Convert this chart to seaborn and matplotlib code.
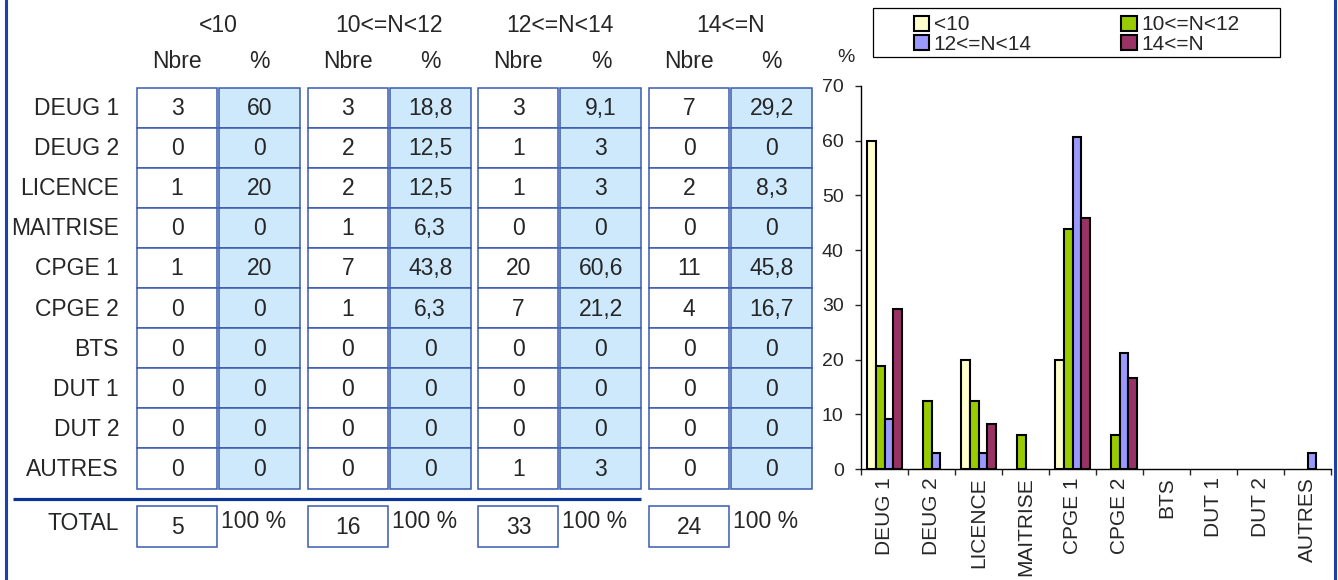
import matplotlib
matplotlib.use("Agg")
import matplotlib.pyplot as plt
from matplotlib.patches import Rectangle
import seaborn as sns
import pandas as pd

# --- Données
formations = ["DEUG 1", "DEUG 2", "LICENCE", "MAITRISE", "CPGE 1", "CPGE 2",
              "BTS", "DUT 1", "DUT 2", "AUTRES"]
tranches = ["<10", "10<=N<12", "12<=N<14", "14<=N"]

nbre_lt10 = [3, 0, 1, 0, 1, 0, 0, 0, 0, 0]
pct_lt10 = [60, 0, 20, 0, 20, 0, 0, 0, 0, 0]
nbre_10_12 = [3, 2, 2, 1, 7, 1, 0, 0, 0, 0]
pct_10_12 = [18.8, 12.5, 12.5, 6.3, 43.8, 6.3, 0, 0, 0, 0]
nbre_12_14 = [3, 1, 1, 0, 20, 7, 0, 0, 0, 1]
pct_12_14 = [9.1, 3, 3, 0, 60.6, 21.2, 0, 0, 0, 3]
nbre_ge14 = [7, 0, 2, 0, 11, 4, 0, 0, 0, 0]
pct_ge14 = [29.2, 0, 8.3, 0, 45.8, 16.7, 0, 0, 0, 0]
totaux = [5, 16, 33, 24]

couleurs = ["#FFFFCC", "#99CC00", "#9999FF", "#993366"]

nbres = [nbre_lt10, nbre_10_12, nbre_12_14, nbre_ge14]
pcts = [pct_lt10, pct_10_12, pct_12_14, pct_ge14]


def fmt(v):
    if float(v).is_integer():
        return str(int(v))
    return str(v).replace(".", ",")


sns.set_style("white")
plt.rcParams["font.family"] = ["Liberation Sans", "DejaVu Sans"]

fig = plt.figure(figsize=(13.38, 5.8), dpi=100)

# --- Tableau (coordonnées en pixels)
tab = fig.add_axes([0, 0, 1, 1])
tab.set_xlim(0, 1338)
tab.set_ylim(580, 0)
tab.axis("off")

bleu = "#1E40AF"
bord = "#3A5BB0"
fond_pct = "#CDE9FB"
fs = 16.5

tab.axvline(6, color=bleu, lw=2.2)
tab.axvline(1335, color=bleu, lw=2.2)

x0, pas_groupe = 137, 170.7
w_nb, w_pct, decal = 80, 81, 82
y0, h = 87.5, 40.1

for g, nom in enumerate(tranches):
    gx = x0 + g * pas_groupe
    tab.text(gx + (decal + w_pct) / 2, 26, nom, ha="center", va="center", fontsize=fs)
    tab.text(gx + w_nb / 2, 61, "Nbre", ha="center", va="center", fontsize=fs)
    tab.text(gx + decal + w_pct / 2, 61, "%", ha="center", va="center", fontsize=fs)
    for i in range(len(formations)):
        y = y0 + i * h
        tab.add_patch(Rectangle((gx, y), w_nb, h, facecolor="white", edgecolor=bord, lw=1.1))
        tab.add_patch(Rectangle((gx + decal, y), w_pct, h, facecolor=fond_pct, edgecolor=bord, lw=1.1))
        tab.text(gx + w_nb / 2, y + h / 2 + 1, fmt(nbres[g][i]), ha="center", va="center", fontsize=fs)
        tab.text(gx + decal + w_pct / 2, y + h / 2 + 1, fmt(pcts[g][i]), ha="center", va="center", fontsize=fs)
    # total
    tab.add_patch(Rectangle((gx, 506), w_nb, 40.5, facecolor="white", edgecolor=bord, lw=1.1))
    tab.text(gx + w_nb / 2, 527, str(totaux[g]), ha="center", va="center", fontsize=fs)
    tab.text(gx + w_nb + 4, 522, "100 %", ha="left", va="center", fontsize=fs)

for i, f in enumerate(formations):
    tab.text(119, y0 + i * h + h / 2 + 1, f, ha="right", va="center", fontsize=fs)
tab.text(119, 524, "TOTAL", ha="right", va="center", fontsize=fs)
tab.plot([13, 641], [498.5, 498.5], color="#0A3396", lw=2.3, solid_capstyle="butt")

# cadre de la légende
tab.add_patch(Rectangle((873, 8), 407, 49, facecolor="white", edgecolor="black", lw=0.9))

# --- Graphique
df = pd.DataFrame({
    "formation": formations * 4,
    "tranche": [t for t in tranches for _ in formations],
    "pct": pct_lt10 + pct_10_12 + pct_12_14 + pct_ge14,
})

ax = fig.add_axes([861 / 1338, (580 - 469) / 580, (1331 - 861) / 1338, (469 - 86) / 580])
sns.barplot(data=df, x="formation", y="pct", hue="tranche", order=formations,
            hue_order=tranches, palette=couleurs, width=0.75, edgecolor="black",
            linewidth=1.5, saturation=1, ax=ax)
handles, labels = ax.get_legend_handles_labels()
ax.get_legend().remove()
for cont in ax.containers:
    for p in cont:
        if p.get_height() == 0:
            p.set_visible(False)
ax.set_xlim(-0.5, 9.5)
ax.set_ylim(0, 70)
ax.set_yticks(range(0, 71, 10))
ax.set_xlabel("")
ax.set_ylabel("")
ax.patch.set_alpha(0)
for s in ["top", "right"]:
    ax.spines[s].set_visible(False)
for s in ["left", "bottom"]:
    ax.spines[s].set_color("black")
    ax.spines[s].set_linewidth(1)
ax.tick_params(axis="y", direction="out", length=4.5, width=1, pad=8, labelsize=14, left=True)
ax.set_xticks([k - 0.5 for k in range(11)], minor=True)
ax.tick_params(axis="x", which="minor", direction="out", length=4.5, width=1, bottom=True)
ax.tick_params(axis="x", which="major", length=0, pad=6, labelsize=15, labelrotation=90)

ordre = [0, 2, 1, 3]
leg = fig.legend([handles[k] for k in ordre], [labels[k] for k in ordre],
                 ncol=2, loc="center",
                 bbox_to_anchor=((873 + 203.5) / 1338, 1 - 34.5 / 580),
                 fontsize=15, frameon=False,
                 handlelength=0.75, handleheight=0.7, handletextpad=0.2,
                 labelspacing=0.0, columnspacing=4.3, borderpad=0)
for hd in leg.legend_handles:
    hd.set_edgecolor("black")
    hd.set_linewidth(1.5)

fig.text(846 / 1338, 1 - 57 / 580, "%", ha="center", va="center", fontsize=14)

plt.savefig("out.png", dpi=100)
plt.close()
